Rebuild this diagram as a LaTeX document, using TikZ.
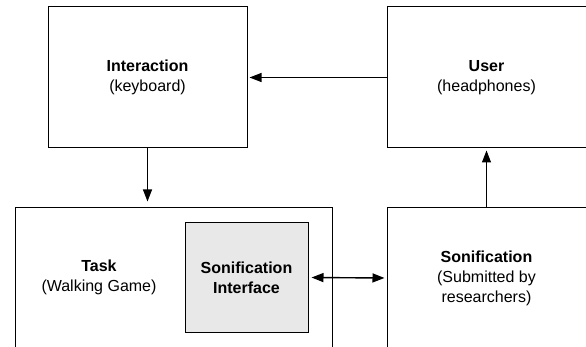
\documentclass[tikz,border=0pt]{standalone}
\usepackage{fontspec}
\setmainfont{Liberation Sans}
\usepackage{xcolor}
\usepackage{tikz}
\usetikzlibrary{arrows.meta}
\definecolor{primary}{RGB}{0, 0, 0}
\definecolor{ifacefill}{RGB}{232, 232, 232}

\begin{document}
\begin{tikzpicture}[x=1pt,y=-1pt,
  box/.style={draw=primary,line width=1pt,inner sep=0pt,align=center,font=\fontsize{16}{20}\selectfont},
  txt/.style={inner sep=0pt,align=center,font=\fontsize{16}{20}\selectfont},
  arr/.style={primary,line width=1.1pt,-{Triangle[length=12pt,width=9pt]}}]
\clip (0,0) rectangle (586,347);
\node[box,minimum width=199pt,minimum height=141pt] (inter) at (147.5,77.5) {\textbf{Interaction}\\(keyboard)};
\node[box,minimum width=199pt,minimum height=141pt] (user) at (486.5,77.5) {\textbf{User}\\(headphones)};
\node[box,minimum width=317pt,minimum height=140pt] (task) at (173.5,278) {};
\node[txt] (tasklabel) at (99,277.5) {\textbf{Task}\\(Walking Game)};
\node[box,fill=ifacefill,minimum width=123pt,minimum height=109pt] (iface) at (246.5,277.5) {\textbf{Sonification}\\\textbf{Interface}};
\node[box,minimum width=199pt,minimum height=140pt] (son) at (486.5,278) {\textbf{Sonification}\\(Submitted by\\researchers)};
\draw[arr,shorten >=2pt] (user.west) -- (inter.east);
\draw[arr,shorten >=6pt] (inter.south) -- (inter.south |- task.north);
\draw[arr,shorten >=2pt] (son.north) -- (user.south);
\draw[arr,{Triangle[length=12pt,width=9pt]}-{Triangle[length=12pt,width=9pt]},line width=1.4pt,shorten <=3pt,shorten >=2pt] (iface.east) -- (son.west);
\end{tikzpicture}
\end{document}
